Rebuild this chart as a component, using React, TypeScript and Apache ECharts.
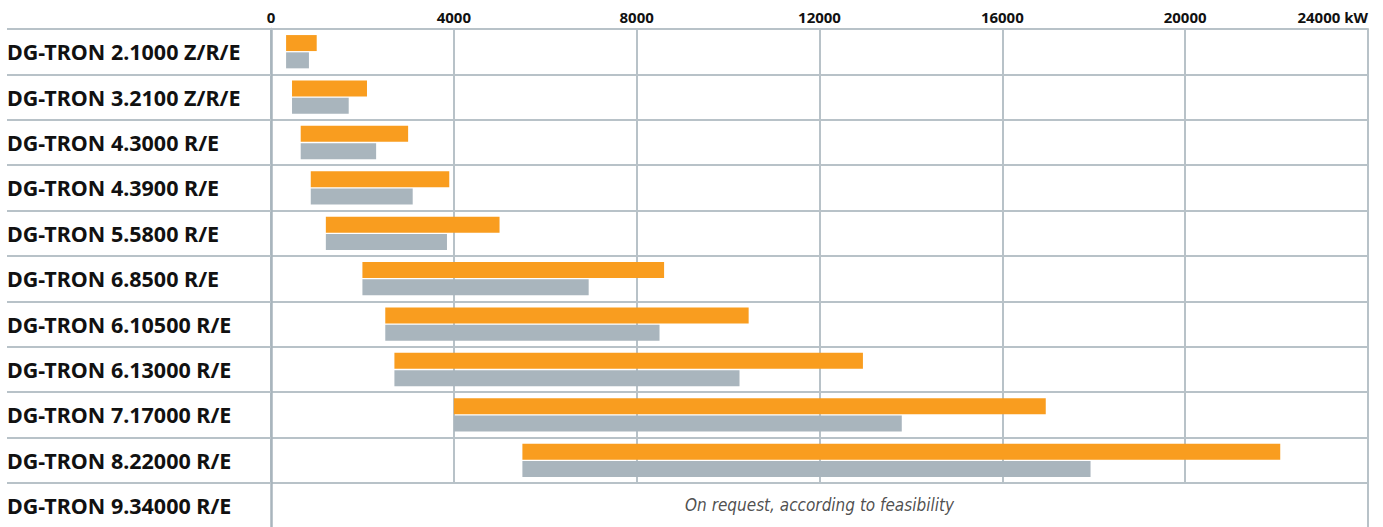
import React, { useEffect, useRef } from "react";
import * as echarts from "echarts";

const categories = [
  "DG-TRON 2.1000 Z/R/E",
  "DG-TRON 3.2100 Z/R/E",
  "DG-TRON 4.3000 R/E",
  "DG-TRON 4.3900 R/E",
  "DG-TRON 5.5800 R/E",
  "DG-TRON 6.8500 R/E",
  "DG-TRON 6.10500 R/E",
  "DG-TRON 6.13000 R/E",
  "DG-TRON 7.17000 R/E",
  "DG-TRON 8.22000 R/E",
];
const lastCategory = "DG-TRON 9.34000 R/E";
const lastNote = "On request, according to feasibility";

const rangeStart = [330, 460, 650, 870, 1200, 2000, 2500, 2700, 4000, 5500];
const orangeEnd = [1000, 2100, 3000, 3900, 5000, 8600, 10450, 12950, 16950, 22080];
const greyEnd = [830, 1700, 2300, 3100, 3850, 6950, 8500, 10250, 13800, 17930];

const tickLabels = [0, 4000, 8000, 12000, 16000, 20000, 24000];

const ORANGE = "#F99D1F";
const GREY = "#A9B5BD";
const LINE = "#B8C2C8";
const AXIS0 = "#A9B5BD";
const FONT = "'Noto Sans', 'Open Sans', sans-serif";

export default function App() {
  const ref = useRef<HTMLDivElement>(null);
  useEffect(() => {
    document.body.style.margin = "0";
    const chart = echarts.init(ref.current!, null, { renderer: "svg" });
    const rowH = 45.4;
    const top = 29;
    const left = 271;
    const right = 1383 - 1368;
    const labelStyle = {
      align: "left" as const,
      margin: 264,
      fontSize: 21.5,
      fontWeight: 700,
      color: "#111",
      fontFamily: FONT,
    };
    const xMin = tickLabels[0];
    const xMax = tickLabels[tickLabels.length - 1];
    const option: any = {
      animation: false,
      grid: [
        { left, right, top, height: rowH * categories.length },
        { left, right, top: top + rowH * categories.length, height: rowH },
      ],
      xAxis: [
        {
          gridIndex: 0,
          type: "value",
          position: "top",
          min: xMin,
          max: xMax,
          interval: 4000,
          axisLine: { show: true, lineStyle: { color: LINE, width: 2 } },
          axisTick: { show: false },
          splitLine: { show: true, lineStyle: { color: LINE, width: 2 } },
          axisLabel: {
            margin: 5,
            fontSize: 15,
            fontWeight: 700,
            color: "#111",
            fontFamily: FONT,
            alignMaxLabel: "right",
            formatter: (v: number) => (v === xMax ? `${v} kW` : `${v}`),
          },
        },
        {
          gridIndex: 1,
          type: "value",
          min: xMin,
          max: xMax,
          interval: 4000,
          show: false,
        },
      ],
      yAxis: [
        {
          gridIndex: 0,
          type: "category",
          inverse: true,
          data: categories,
          axisLine: { show: true, lineStyle: { color: AXIS0, width: 2.5 } },
          axisTick: {
            show: true,
            length: 264,
            interval: 0,
            lineStyle: { color: LINE, width: 2 },
          },
          splitLine: { show: true, interval: 0, lineStyle: { color: LINE, width: 2 } },
          axisLabel: { ...labelStyle, interval: 0 },
        },
        {
          gridIndex: 1,
          type: "category",
          inverse: true,
          data: [lastCategory],
          axisLine: { show: true, lineStyle: { color: AXIS0, width: 2.5 } },
          axisTick: { show: false },
          axisLabel: { ...labelStyle, interval: 0 },
        },
        {
          gridIndex: 1,
          type: "category",
          position: "right",
          data: [lastCategory],
          axisLine: { show: true, lineStyle: { color: LINE, width: 2 } },
          axisTick: { show: false },
          axisLabel: { show: false },
        },
      ],
      series: [
        {
          type: "bar",
          stack: "o",
          xAxisIndex: 0,
          yAxisIndex: 0,
          data: rangeStart,
          barWidth: 16,
          barGap: "8%",
          itemStyle: { color: "transparent" },
          silent: true,
          z: 1,
        },
        {
          type: "bar",
          stack: "o",
          xAxisIndex: 0,
          yAxisIndex: 0,
          data: orangeEnd.map((v, i) => v - rangeStart[i]),
          barWidth: 16,
          barGap: "8%",
          itemStyle: { color: ORANGE },
          z: 3,
        },
        {
          type: "bar",
          stack: "g",
          xAxisIndex: 0,
          yAxisIndex: 0,
          data: rangeStart,
          barWidth: 16,
          barGap: "8%",
          itemStyle: { color: "transparent" },
          silent: true,
          z: 1,
        },
        {
          type: "bar",
          stack: "g",
          xAxisIndex: 0,
          yAxisIndex: 0,
          data: greyEnd.map((v, i) => v - rangeStart[i]),
          barWidth: 16,
          barGap: "8%",
          itemStyle: { color: GREY },
          z: 3,
        },
        {
          type: "scatter",
          xAxisIndex: 1,
          yAxisIndex: 1,
          data: [[12000, 0]],
          symbolSize: 1,
          itemStyle: { color: "transparent" },
          label: {
            show: true,
            position: "inside",
            formatter: lastNote,
            fontSize: 17,
            fontStyle: "italic",
            color: "#222",
            fontFamily: "'DejaVu Sans Condensed', 'Liberation Sans Narrow', sans-serif",
          },
        },
      ],
    };
    chart.setOption(option);
    return () => chart.dispose();
  }, []);
  return <div ref={ref} style={{ width: 1383, height: 527 }} />;
}
